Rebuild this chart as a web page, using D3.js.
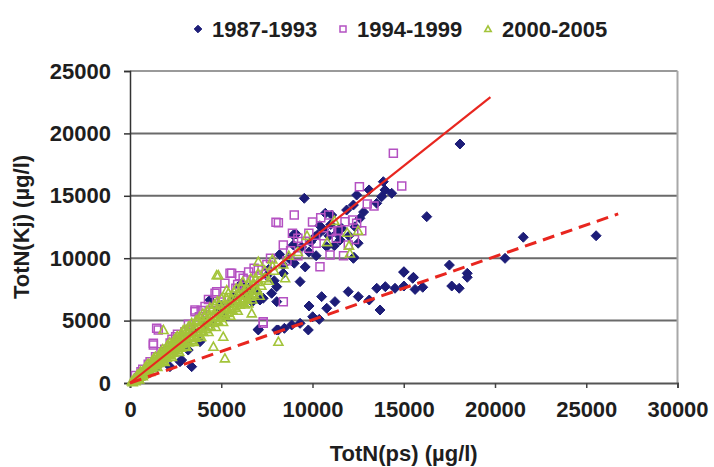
<!DOCTYPE html>
<html>
<head>
<meta charset="utf-8">
<script src="https://cdn.jsdelivr.net/npm/d3@7/dist/d3.min.js"></script>
<style>
	body { margin: 0; background: #fff; }
	svg text { font-family: "Liberation Sans", Arial, sans-serif; font-weight: bold; fill: #1e1e1e; }
</style>
</head>
<body>
<svg id="chart" width="714" height="467"></svg>
<script>
	'use strict';

	var seriesNames = ['1987-1993', '1994-1999', '2000-2005'];
	var xTicks = [0, 5000, 10000, 15000, 20000, 25000, 30000];
	var yTicks = [0, 5000, 10000, 15000, 20000, 25000];

	// 1987-1993 (diamonds): upper group along the solid line, lower group along the dashed line
	var points1987 = [
		[500, 700], [800, 600], [1200, 1600], [1500, 1300], [2000, 2600], [2190, 1310], [2740, 1710], [2830, 1840],
		[3190, 2640], [3380, 1310], [3835, 3310], [4380, 6650], [4000, 5000], [4500, 4800], [5000, 6200], [5500, 6400],
		[6030, 7720], [6120, 7990], [6940, 7320], [7120, 6650], [7760, 7190], [7300, 6790], [8040, 7720], [8400, 8790],
		[8950, 11860], [9100, 11940], [8950, 11060], [8400, 9450], [9320, 8120], [9550, 14800], [10140, 11720], [10780, 10920],
		[11050, 13460], [11330, 12000], [11420, 12260], [11510, 11460], [11870, 13860], [12240, 14260], [12270, 10070], [12240, 9990],
		[12330, 12520], [12420, 15060], [13100, 15470], [13520, 14400], [13790, 14930], [13880, 16130], [13970, 15470], [14340, 15200],
		[16260, 13330], [18080, 19150], [7500, 8600], [6500, 7600], [5700, 6900], [9800, 10500], [10400, 12600], [10900, 11800],
		[8200, 10300], [8700, 10000], [9400, 10900], [9900, 11300], [10300, 11900], [10600, 12300], [11000, 12700], [11600, 12400],
		[12000, 11800], [12600, 13200], [9000, 9600], [9600, 9300], [10200, 10200], [7600, 9100], [7900, 8200], [11200, 11000],
		[12500, 11200], [10700, 13600], [12800, 13700], [1000, 900], [1800, 2000], [2500, 2700], [3000, 3200], [3500, 4100],
		[4200, 4700], [4800, 5600], [5200, 5300], [6300, 7100], [6700, 6500],
		[7030, 4250], [7030, 4300], [8130, 4250], [8040, 4250], [8460, 4380], [8860, 4650], [9320, 4780], [9770, 4250],
		[10010, 5310], [10370, 5100], [9810, 6170], [10500, 6920], [10780, 5990], [11230, 6520], [11960, 7320], [12510, 6920],
		[13110, 6650], [13520, 7590], [13700, 5850], [13990, 7720], [14520, 7590], [15010, 7770], [15010, 8920], [15490, 8390],
		[15620, 7500], [16040, 7670], [17500, 9450], [17630, 7770], [18040, 7590], [18480, 8790], [18480, 8470], [20550, 9990],
		[21550, 11680], [25540, 11800], [15000, 8870], [15530, 8470], [8040, 6520]
	];

	// 1994-1999 (open squares)
	var points1994 = [
		[300, 600], [500, 450], [700, 1100], [900, 800], [1100, 1700], [1280, 3180], [1460, 4380], [1550, 4250],
		[1280, 3050], [1400, 2100], [1700, 2500], [2000, 2300], [2200, 3200], [2500, 3700], [2800, 3400], [3010, 4110],
		[3200, 4700], [3560, 5710], [3560, 5850], [3800, 5300], [4110, 6120], [4400, 5800], [4660, 7190], [4750, 7320],
		[5000, 6500], [5200, 7990], [5480, 8790], [5570, 8790], [5800, 7600], [6200, 8400], [6500, 8900], [6800, 8200],
		[7030, 9060], [7300, 4910], [7300, 4780], [8400, 6520], [7500, 9500], [8000, 12880], [8130, 12850], [8400, 11060],
		[9000, 13460], [9400, 11330], [9200, 10200], [10410, 9320], [10960, 10260], [10450, 13250], [10890, 13460], [11050, 12130],
		[11780, 12930], [11960, 11060], [12200, 13060], [12420, 12800], [12570, 15730], [13000, 14340], [13370, 14180], [14430, 18400],
		[14890, 15790], [8600, 9800], [7700, 10000], [6000, 8600], [3300, 4300], [2600, 3900], [1900, 2700], [1000, 1500],
		[600, 900], [9800, 12000], [10200, 11200], [8800, 10600], [9200, 11600], [9800, 10800], [10600, 11800], [11400, 12200],
		[11300, 11600], [12700, 12200], [10000, 12900], [8900, 12000], [7400, 8700], [6800, 9200], [5900, 7900], [4300, 6700],
		[3900, 5800], [2300, 3500], [11700, 10200], [12300, 11500]
	];

	// 2000-2005 (open triangles): dense band near the origin
	var points2000 = [
		[100, 150], [150, 80], [200, 300], [250, 200], [300, 400], [350, 300], [400, 500], [450, 380], [500, 650], [550, 520],
		[600, 780], [650, 600], [700, 900], [750, 700], [800, 1000], [850, 820], [900, 1150], [950, 950], [1000, 1300], [1050, 1100],
		[1100, 1400], [1150, 1200], [1200, 1550], [1250, 1300], [1300, 1700], [1350, 1450], [1400, 1800], [1450, 1550], [1500, 1950], [1550, 1650],
		[1600, 2100], [1650, 1800], [1700, 2200], [1750, 1900], [1800, 2350], [1850, 2050], [1900, 2500], [1950, 2150], [2000, 2600], [2050, 2250],
		[2100, 2750], [2150, 2350], [2200, 2900], [2250, 2450], [2300, 3000], [2350, 2600], [2400, 3150], [2450, 2700], [2500, 3250], [2550, 2800],
		[2600, 3400], [2650, 2900], [2700, 3500], [2750, 3000], [2800, 3650], [2850, 3150], [2900, 3750], [2950, 3250], [3000, 3900], [3100, 3400],
		[3200, 4050], [3300, 3600], [3400, 4200], [3500, 3800], [3600, 4450], [3700, 4000], [3800, 4650], [3900, 4200], [4000, 4900], [4100, 4450],
		[4200, 5100], [4300, 4600], [4400, 5300], [4500, 4850], [4600, 5550], [4700, 5050], [4800, 5800], [4900, 5250], [5000, 6000], [5100, 5500],
		[5200, 6250], [5300, 5700], [5400, 6500], [5500, 5950], [5600, 6700], [5700, 6150], [5800, 6900], [5900, 6400], [6000, 7100], [6100, 6600],
		[6200, 7300], [6300, 6800], [6400, 7500], [6500, 7000], [6600, 7700], [6700, 7200], [6800, 7900], [6900, 7500], [7000, 8100], [7200, 7800],
		[7400, 8400], [7600, 8200], [300, 150], [500, 300], [700, 550], [900, 1400], [1100, 900], [1300, 2000], [1500, 1300], [1700, 2500],
		[1900, 1700], [2100, 3100], [2300, 2100], [2500, 3600], [2700, 2500], [2900, 4200], [3100, 2900], [3300, 4500], [3500, 3300], [3700, 5000],
		[3900, 3700], [4100, 5400], [4300, 4100], [4500, 5900], [4700, 4500], [4900, 6300], [5100, 4900], [5300, 6800], [5500, 5400], [5700, 7300],
		[5900, 5800], [6100, 7700], [6300, 6300], [6500, 8000], [6700, 6700], [6900, 8400], [7100, 7000], [7030, 9720], [4750, 8650], [4840, 8650],
		[5300, 7450], [5110, 3710], [4570, 2910], [5200, 1980], [8130, 3310], [1830, 4250], [6480, 6390], [6670, 5590], [7900, 9000], [8400, 9500],
		[8700, 10200], [9200, 10500], [10800, 11300], [12000, 11000], [12500, 12200], [9700, 11800], [11900, 12050], [12050, 10390], [8500, 8400], [7800, 9900],
		[11200, 13000],
		[400, 350], [620, 610], [810, 790], [1020, 1000], [1190, 1230], [1410, 1440], [1590, 1620], [1820, 1790], [2010, 2030], [2210, 2240],
		[2390, 2420], [2620, 2640], [2790, 2830], [3010, 2990], [3220, 3250], [3390, 3420], [3610, 3640], [3790, 3830], [4020, 4090], [4180, 4320],
		[4410, 4580], [4590, 4820], [4820, 4990], [5010, 5230], [5190, 5480], [5420, 5620], [5610, 5880], [5790, 6020], [6020, 6280], [6190, 6520],
		[6420, 6690], [6610, 6920], [6790, 7120], [7010, 7380],
		[410, 660], [590, 940], [820, 1240], [990, 1560], [1210, 1790], [1390, 2110], [1620, 2380], [1790, 2710], [2020, 2980], [2180, 3260],
		[2420, 3480], [2590, 3770], [2810, 3990], [2990, 4310], [3210, 4540], [3380, 4820], [3620, 5040], [3810, 5290], [3990, 5570], [4220, 5790],
		[4380, 6060], [4620, 6290], [4790, 6560], [5020, 6780], [5390, 7220], [5820, 7580], [6180, 8120], [6620, 8380], [7020, 8790], [7380, 9020],
		[7810, 9380]
	];

	var trendSolid = [[0, 0], [19750, 22900]];
	var trendDashed = [[0, 0], [26750, 13550]];

	(function(d3) {
		var svg = d3.select('#chart');
		var plotLeft = 130, plotRight = 677.5, plotTop = 71, plotBottom = 383;

		var x = d3.scaleLinear().domain([0, 30000]).range([plotLeft, plotRight]);
		var y = d3.scaleLinear().domain([0, 25000]).range([plotBottom, plotTop]);

		/** grid + frame */
		svg.append('g').selectAll('line').data(yTicks.slice(1)).enter().append('line')
			.attr('x1', plotLeft).attr('x2', plotRight)
			.attr('y1', function(d) { return y(d); }).attr('y2', function(d) { return y(d); })
			.attr('stroke', function(d) { return d === 25000 ? '#9a9a9a' : '#6a6a6a'; })
			.attr('stroke-width', 2);
		svg.append('line').attr('x1', plotRight).attr('x2', plotRight).attr('y1', plotTop).attr('y2', plotBottom)
			.attr('stroke', '#a8a8a8').attr('stroke-width', 2);

		/** axes */
		var xAxis = d3.axisBottom(x).tickValues(xTicks).tickSize(5).tickPadding(10).tickFormat(d3.format('d'));
		var gx = svg.append('g').attr('transform', 'translate(0,' + plotBottom + ')').call(xAxis);
		gx.select('.domain').attr('stroke', '#555').attr('stroke-width', 2);
		gx.selectAll('.tick line').attr('stroke', '#444').attr('stroke-width', 1.5);
		gx.selectAll('.tick text').attr('font-size', 22).attr('dy', '0.85em');

		var yAxis = d3.axisLeft(y).tickValues(yTicks).tickSize(6).tickPadding(13).tickFormat(d3.format('d'));
		var gy = svg.append('g').attr('transform', 'translate(' + plotLeft + ',0)').call(yAxis);
		gy.select('.domain').attr('stroke', '#333').attr('stroke-width', 1.5);
		gy.selectAll('.tick line').attr('stroke', '#333').attr('stroke-width', 1.5);
		gy.selectAll('.tick text').attr('font-size', 22);

		svg.append('text').attr('x', (plotLeft + plotRight) / 2).attr('y', 461).attr('text-anchor', 'middle')
			.attr('font-size', 22).text('TotN(ps) (µg/l)');
		svg.append('text').attr('transform', 'translate(29,' + ((plotTop + plotBottom) / 2) + ') rotate(-90)')
			.attr('text-anchor', 'middle').attr('font-size', 22).text('TotN(Kj) (µg/l)');

		/** markers */
		var diamondPath = function(r) {
			return 'M0,' + (-r) + 'L' + r + ',0L0,' + r + 'L' + (-r) + ',0Z';
		};
		var squarePath = function(r) {
			return 'M' + (-r) + ',' + (-r) + 'H' + r + 'V' + r + 'H' + (-r) + 'Z';
		};
		var trianglePath = function(r) {
			return 'M0,' + (-r) + 'L' + r + ',' + (r * 0.8) + 'L' + (-r) + ',' + (r * 0.8) + 'Z';
		};

		var seriesDefs = [
			{ data: points1987, path: diamondPath(5), fill: '#1d1d78', stroke: '#1d1d78', width: 1 },
			{ data: points1994, path: squarePath(4), fill: 'none', stroke: '#b451c2', width: 1.5 },
			{ data: points2000, path: trianglePath(4.5), fill: 'none', stroke: '#a3c43a', width: 1.6 }
		];

		var plot = svg.append('g');
		seriesDefs.forEach(function(def) {
			plot.append('g').selectAll('path').data(def.data).enter().append('path')
				.attr('d', def.path)
				.attr('transform', function(d) { return 'translate(' + x(d[0]) + ',' + y(d[1]) + ')'; })
				.attr('fill', def.fill).attr('stroke', def.stroke).attr('stroke-width', def.width);
		});

		/** trend lines */
		var line = d3.line().x(function(d) { return x(d[0]); }).y(function(d) { return y(d[1]); });
		svg.append('path').datum(trendSolid).attr('d', line).attr('fill', 'none')
			.attr('stroke', '#e8261f').attr('stroke-width', 2.2);
		svg.append('path').datum(trendDashed).attr('d', line).attr('fill', 'none')
			.attr('stroke', '#e8261f').attr('stroke-width', 3).attr('stroke-dasharray', '12,7');

		/** legend */
		var legendX = [198, 343, 488];
		var legendPaths = [diamondPath(3.8), squarePath(3), trianglePath(3.2)];
		var legend = svg.append('g').selectAll('g').data(seriesNames).enter().append('g')
			.attr('transform', function(d, i) { return 'translate(' + legendX[i] + ',29)'; });
		legend.append('path').attr('d', function(d, i) { return legendPaths[i]; })
			.attr('fill', function(d, i) { return seriesDefs[i].fill; })
			.attr('stroke', function(d, i) { return seriesDefs[i].stroke; })
			.attr('stroke-width', function(d, i) { return seriesDefs[i].width; });
		legend.append('text').attr('x', 14).attr('y', 8).attr('font-size', 22).text(function(d) { return d; });
	})(d3);
</script>
</body>
</html>
